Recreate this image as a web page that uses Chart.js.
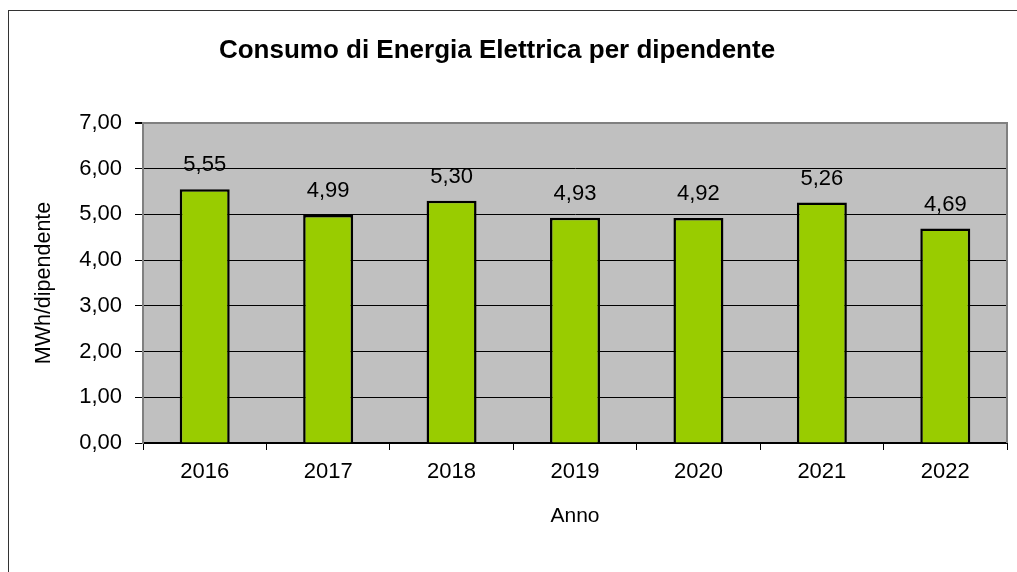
<!DOCTYPE html>
<html>
<head>
<meta charset="utf-8">
<script src="https://cdn.jsdelivr.net/npm/chart.js@4/dist/chart.umd.min.js"></script>
<style>
html,body{margin:0;padding:0;background:#fff;}
#wrap{width:1017px;height:572px;position:relative;}
</style>
</head>
<body>
<div id="wrap"><canvas id="c" width="1017" height="572"></canvas></div>
<script>
const categories = ['2016','2017','2018','2019','2020','2021','2022'];
const consumo = [5.55, 4.99, 5.30, 4.93, 4.92, 5.26, 4.69];
const yTicks = [0, 1, 2, 3, 4, 5, 6, 7];
const titleText = 'Consumo di Energia Elettrica per dipendente';
const yTitle = 'MWh/dipendente';
const xTitle = 'Anno';

const FONT = '"Liberation Sans", Arial, sans-serif';
const fmt = v => Number(v).toFixed(2).replace('.', ',');

const decor = {
  id: 'decor',
  beforeDraw(chart) {
    const {ctx, chartArea: a} = chart;
    ctx.save();
    ctx.fillStyle = '#fff';
    ctx.fillRect(0, 0, chart.width, chart.height);
    ctx.strokeStyle = '#333';
    ctx.lineWidth = 1;
    ctx.strokeRect(8.5, 10.5, 2000, 2000);
    ctx.fillStyle = '#C0C0C0';
    ctx.fillRect(a.left, a.top, a.right - a.left, a.bottom - a.top);
    ctx.fillStyle = '#000';
    ctx.font = 'bold 26px ' + FONT;
    ctx.textAlign = 'center';
    ctx.textBaseline = 'middle';
    ctx.fillText(titleText, 497, 51);
    ctx.restore();
  },
  afterDraw(chart) {
    const {ctx, chartArea: a} = chart;
    ctx.save();
    ctx.strokeStyle = '#808080';
    ctx.lineWidth = 2;
    ctx.beginPath();
    ctx.moveTo(a.left, a.top);
    ctx.lineTo(a.right, a.top);
    ctx.lineTo(a.right, a.bottom);
    ctx.stroke();
    ctx.restore();
  },
  afterDatasetsDraw(chart) {
    const {ctx} = chart;
    const meta = chart.getDatasetMeta(0);
    ctx.save();
    ctx.fillStyle = '#000';
    ctx.font = '22px ' + FONT;
    ctx.textAlign = 'center';
    ctx.textBaseline = 'middle';
    meta.data.forEach((bar, i) => {
      ctx.fillText(fmt(chart.data.datasets[0].data[i]), bar.x, bar.y - 24);
    });
    ctx.restore();
  }
};

new Chart(document.getElementById('c'), {
  type: 'bar',
  data: {
    labels: categories,
    datasets: [{
      data: consumo,
      backgroundColor: '#99CC00',
      borderColor: '#000',
      borderWidth: 2.5,
      barPercentage: 0.405,
      categoryPercentage: 1
    }]
  },
  options: {
    responsive: false,
    animation: false,
    devicePixelRatio: 1,
    layout: {padding: {top: 123, right: 10, left: 0, bottom: 0}},
    plugins: {legend: {display: false}, tooltip: {enabled: false}, title: {display: false}},
    scales: {
      x: {
        afterFit(s) { s.height = 129; },
        grid: {drawOnChartArea: false, drawTicks: true, tickLength: 7, color: '#000', tickColor: '#000', offset: true},
        border: {color: '#000', width: 2},
        ticks: {color: '#000', font: {family: FONT, size: 22}, padding: 9, autoSkip: false, maxRotation: 0},
        title: {display: true, text: xTitle, color: '#000', font: {family: FONT, size: 21}, padding: {top: 0, bottom: 43}}
      },
      y: {
        min: 0, max: 7,
        afterFit(s) { s.width = 143; },
        afterBuildTicks(s) { s.ticks = yTicks.map(v => ({value: v})); },
        grid: {
          drawTicks: true, tickLength: 8,
          color: c => (c.tick && c.tick.value === 7) ? '#808080' : '#000',
          lineWidth: c => (c.tick && c.tick.value === 7) ? 2 : 1,
          tickColor: '#000'
        },
        border: {color: '#808080', width: 2},
        ticks: {color: '#000', font: {family: FONT, size: 22}, padding: 13, callback: v => fmt(v)},
        title: {display: true, text: yTitle, color: '#000', font: {family: FONT, size: 21.5}, padding: {top: 31, bottom: 0}}
      }
    }
  },
  plugins: [decor]
});
</script>
</body>
</html>
